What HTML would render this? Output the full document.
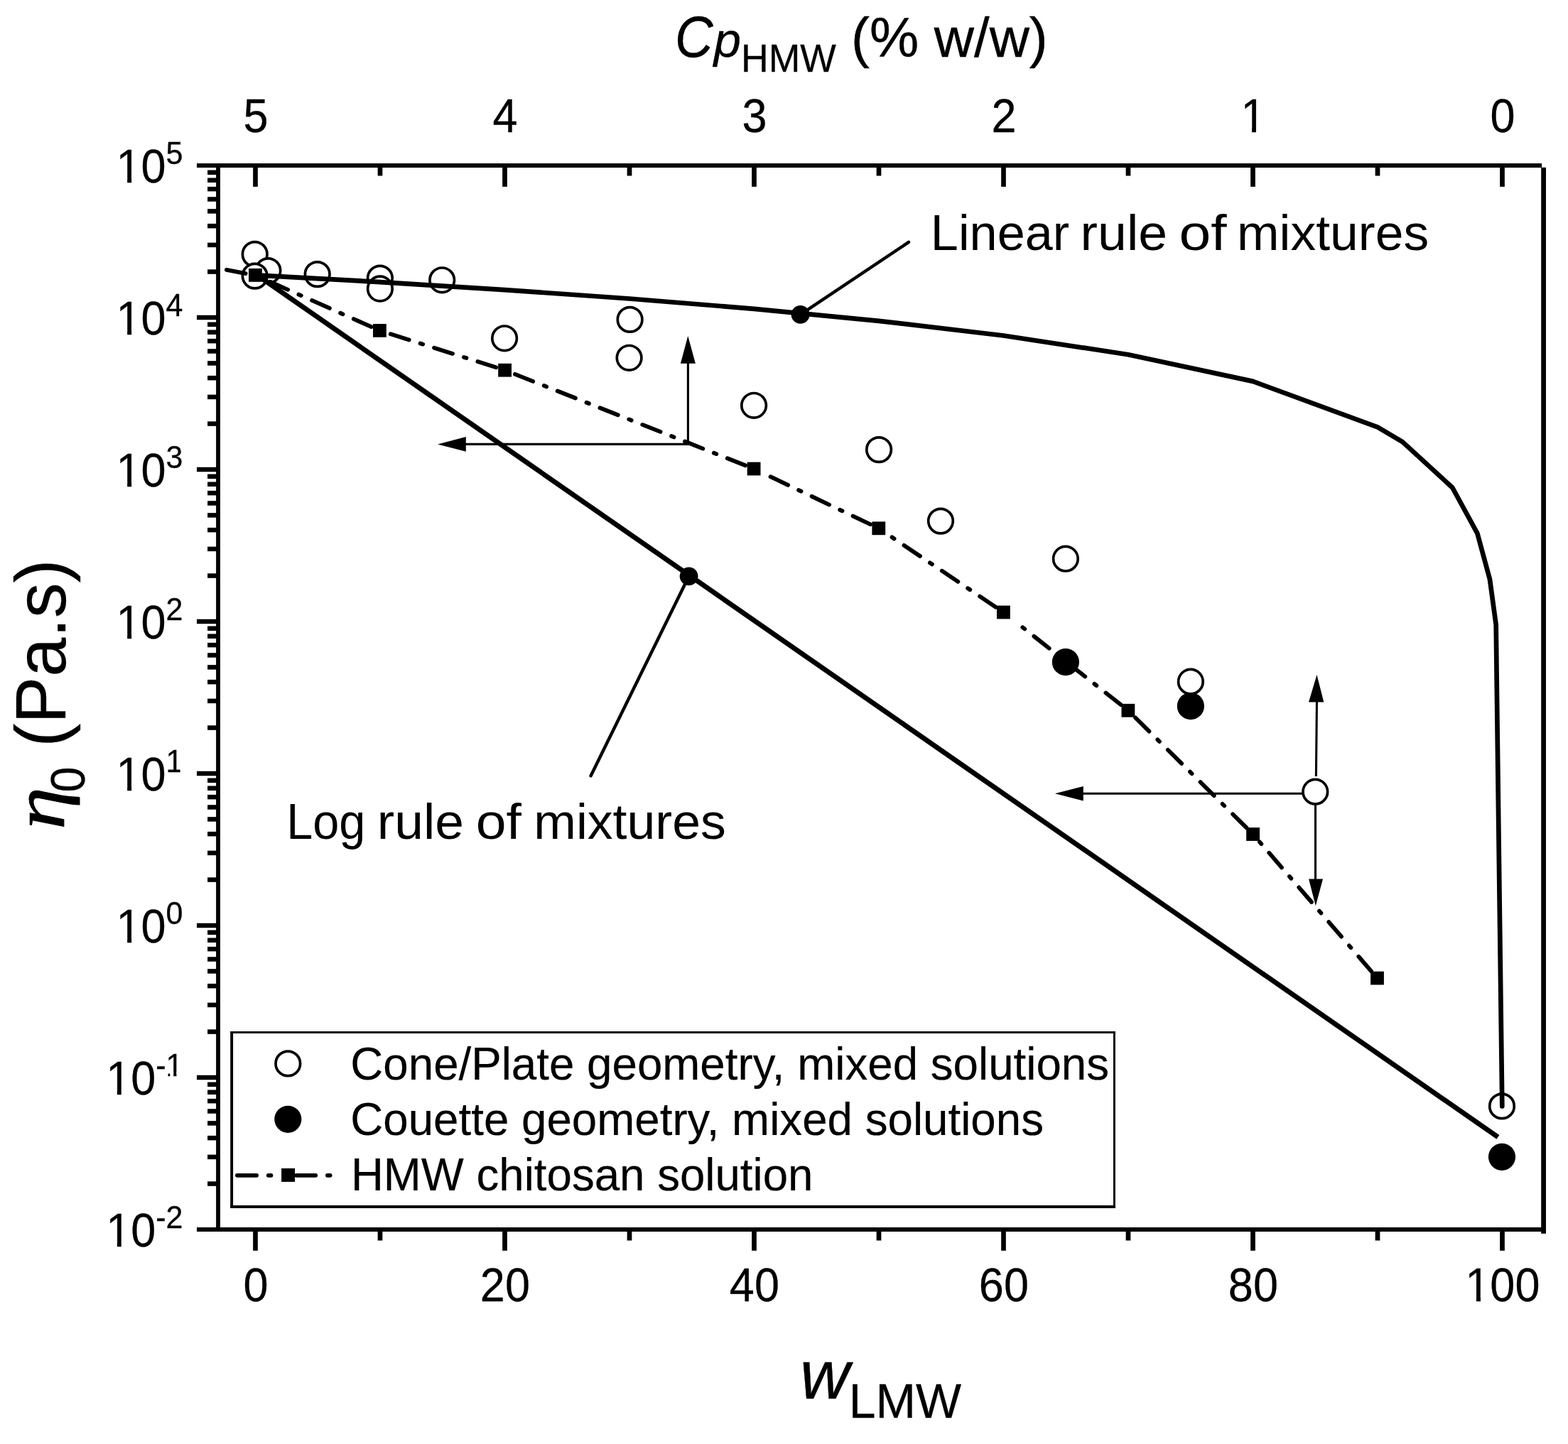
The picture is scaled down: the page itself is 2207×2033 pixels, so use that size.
<!DOCTYPE html>
<html lang="en">
<head>
<meta charset="utf-8">
<title>Zero-shear viscosity of chitosan mixtures</title>
<style>
html,body{margin:0;padding:0;background:#fff;}
body{width:2207px;height:2033px;overflow:hidden;}
svg{display:block;}
text{white-space:pre;fill:#000;}
</style>
</head>
<body>
<svg width="2207" height="2033" viewBox="0 0 2207 2033">
<rect x="0" y="0" width="2207" height="2033" fill="#fff"/>
<g fill="#000">
<rect x="277.00" y="230.00" width="1893.00" height="6.00" />
<rect x="277.00" y="1728.00" width="1893.00" height="6.00" />
<rect x="304.10" y="230.00" width="5.90" height="1504.00" />
<rect x="2169.20" y="235.80" width="6.80" height="1501.00" />
<rect x="356.15" y="1733.00" width="6.70" height="27.80" />
<rect x="356.15" y="235.00" width="6.70" height="27.90" />
<rect x="531.65" y="1733.00" width="6.70" height="13.50" />
<rect x="531.65" y="235.00" width="6.70" height="12.50" />
<rect x="707.15" y="1733.00" width="6.70" height="27.80" />
<rect x="707.15" y="235.00" width="6.70" height="27.90" />
<rect x="882.65" y="1733.00" width="6.70" height="13.50" />
<rect x="882.65" y="235.00" width="6.70" height="12.50" />
<rect x="1058.15" y="1733.00" width="6.70" height="27.80" />
<rect x="1058.15" y="235.00" width="6.70" height="27.90" />
<rect x="1233.65" y="1733.00" width="6.70" height="13.50" />
<rect x="1233.65" y="235.00" width="6.70" height="12.50" />
<rect x="1409.15" y="1733.00" width="6.70" height="27.80" />
<rect x="1409.15" y="235.00" width="6.70" height="27.90" />
<rect x="1584.65" y="1733.00" width="6.70" height="13.50" />
<rect x="1584.65" y="235.00" width="6.70" height="12.50" />
<rect x="1760.15" y="1733.00" width="6.70" height="27.80" />
<rect x="1760.15" y="235.00" width="6.70" height="27.90" />
<rect x="1935.65" y="1733.00" width="6.70" height="13.50" />
<rect x="1935.65" y="235.00" width="6.70" height="12.50" />
<rect x="2111.15" y="1733.00" width="6.70" height="27.80" />
<rect x="2111.15" y="235.00" width="6.70" height="27.90" />
<rect x="292.10" y="1663.33" width="13.00" height="6.50" />
<rect x="292.10" y="1625.65" width="13.00" height="6.50" />
<rect x="292.10" y="1598.91" width="13.00" height="6.50" />
<rect x="292.10" y="1578.17" width="13.00" height="6.50" />
<rect x="292.10" y="1561.23" width="13.00" height="6.50" />
<rect x="292.10" y="1546.90" width="13.00" height="6.50" />
<rect x="292.10" y="1534.49" width="13.00" height="6.50" />
<rect x="292.10" y="1523.54" width="13.00" height="6.50" />
<rect x="277.00" y="1513.75" width="28.10" height="6.50" />
<rect x="292.10" y="1449.33" width="13.00" height="6.50" />
<rect x="292.10" y="1411.65" width="13.00" height="6.50" />
<rect x="292.10" y="1384.91" width="13.00" height="6.50" />
<rect x="292.10" y="1364.17" width="13.00" height="6.50" />
<rect x="292.10" y="1347.23" width="13.00" height="6.50" />
<rect x="292.10" y="1332.90" width="13.00" height="6.50" />
<rect x="292.10" y="1320.49" width="13.00" height="6.50" />
<rect x="292.10" y="1309.54" width="13.00" height="6.50" />
<rect x="277.00" y="1299.75" width="28.10" height="6.50" />
<rect x="292.10" y="1235.33" width="13.00" height="6.50" />
<rect x="292.10" y="1197.65" width="13.00" height="6.50" />
<rect x="292.10" y="1170.91" width="13.00" height="6.50" />
<rect x="292.10" y="1150.17" width="13.00" height="6.50" />
<rect x="292.10" y="1133.23" width="13.00" height="6.50" />
<rect x="292.10" y="1118.90" width="13.00" height="6.50" />
<rect x="292.10" y="1106.49" width="13.00" height="6.50" />
<rect x="292.10" y="1095.54" width="13.00" height="6.50" />
<rect x="277.00" y="1085.75" width="28.10" height="6.50" />
<rect x="292.10" y="1021.33" width="13.00" height="6.50" />
<rect x="292.10" y="983.65" width="13.00" height="6.50" />
<rect x="292.10" y="956.91" width="13.00" height="6.50" />
<rect x="292.10" y="936.17" width="13.00" height="6.50" />
<rect x="292.10" y="919.23" width="13.00" height="6.50" />
<rect x="292.10" y="904.90" width="13.00" height="6.50" />
<rect x="292.10" y="892.49" width="13.00" height="6.50" />
<rect x="292.10" y="881.54" width="13.00" height="6.50" />
<rect x="277.00" y="871.75" width="28.10" height="6.50" />
<rect x="292.10" y="807.33" width="13.00" height="6.50" />
<rect x="292.10" y="769.65" width="13.00" height="6.50" />
<rect x="292.10" y="742.91" width="13.00" height="6.50" />
<rect x="292.10" y="722.17" width="13.00" height="6.50" />
<rect x="292.10" y="705.23" width="13.00" height="6.50" />
<rect x="292.10" y="690.90" width="13.00" height="6.50" />
<rect x="292.10" y="678.49" width="13.00" height="6.50" />
<rect x="292.10" y="667.54" width="13.00" height="6.50" />
<rect x="277.00" y="657.75" width="28.10" height="6.50" />
<rect x="292.10" y="593.33" width="13.00" height="6.50" />
<rect x="292.10" y="555.65" width="13.00" height="6.50" />
<rect x="292.10" y="528.91" width="13.00" height="6.50" />
<rect x="292.10" y="508.17" width="13.00" height="6.50" />
<rect x="292.10" y="491.23" width="13.00" height="6.50" />
<rect x="292.10" y="476.90" width="13.00" height="6.50" />
<rect x="292.10" y="464.49" width="13.00" height="6.50" />
<rect x="292.10" y="453.54" width="13.00" height="6.50" />
<rect x="277.00" y="443.75" width="28.10" height="6.50" />
<rect x="292.10" y="379.33" width="13.00" height="6.50" />
<rect x="292.10" y="341.65" width="13.00" height="6.50" />
<rect x="292.10" y="314.91" width="13.00" height="6.50" />
<rect x="292.10" y="294.17" width="13.00" height="6.50" />
<rect x="292.10" y="277.23" width="13.00" height="6.50" />
<rect x="292.10" y="262.90" width="13.00" height="6.50" />
<rect x="292.10" y="250.49" width="13.00" height="6.50" />
<rect x="292.10" y="239.54" width="13.00" height="6.50" />
</g>
<text font-family="'Liberation Sans', sans-serif"><tspan x="342.38" y="1831.50" font-size="66.00px" textLength="35.04" lengthAdjust="spacingAndGlyphs" stroke="#000" stroke-width="0.30" stroke-linejoin="round">0</tspan></text>
<text font-family="'Liberation Sans', sans-serif"><tspan x="342.38" y="186.20" font-size="66.00px" textLength="35.04" lengthAdjust="spacingAndGlyphs" stroke="#000" stroke-width="0.30" stroke-linejoin="round">5</tspan></text>
<text font-family="'Liberation Sans', sans-serif"><tspan x="675.86" y="1831.50" font-size="66.00px" textLength="70.08" lengthAdjust="spacingAndGlyphs" stroke="#000" stroke-width="0.30" stroke-linejoin="round">20</tspan></text>
<text font-family="'Liberation Sans', sans-serif"><tspan x="693.38" y="186.20" font-size="66.00px" textLength="35.04" lengthAdjust="spacingAndGlyphs" stroke="#000" stroke-width="0.30" stroke-linejoin="round">4</tspan></text>
<text font-family="'Liberation Sans', sans-serif"><tspan x="1026.86" y="1831.50" font-size="66.00px" textLength="70.08" lengthAdjust="spacingAndGlyphs" stroke="#000" stroke-width="0.30" stroke-linejoin="round">40</tspan></text>
<text font-family="'Liberation Sans', sans-serif"><tspan x="1044.38" y="186.20" font-size="66.00px" textLength="35.04" lengthAdjust="spacingAndGlyphs" stroke="#000" stroke-width="0.30" stroke-linejoin="round">3</tspan></text>
<text font-family="'Liberation Sans', sans-serif"><tspan x="1377.86" y="1831.50" font-size="66.00px" textLength="70.08" lengthAdjust="spacingAndGlyphs" stroke="#000" stroke-width="0.30" stroke-linejoin="round">60</tspan></text>
<text font-family="'Liberation Sans', sans-serif"><tspan x="1395.38" y="186.20" font-size="66.00px" textLength="35.04" lengthAdjust="spacingAndGlyphs" stroke="#000" stroke-width="0.30" stroke-linejoin="round">2</tspan></text>
<text font-family="'Liberation Sans', sans-serif"><tspan x="1728.86" y="1831.50" font-size="66.00px" textLength="70.08" lengthAdjust="spacingAndGlyphs" stroke="#000" stroke-width="0.30" stroke-linejoin="round">80</tspan></text>
<clipPath id="c1" clipPathUnits="userSpaceOnUse"><rect x="1726.38" y="107.00" width="75.04" height="72.42"/><rect x="1762.03" y="178.42" width="5.95" height="9.78"/></clipPath>
<text font-family="'Liberation Sans', sans-serif" clip-path="url(#c1)"><tspan x="1746.38" y="186.20" font-size="66.00px" textLength="35.04" lengthAdjust="spacingAndGlyphs" stroke="#000" stroke-width="0.30" stroke-linejoin="round">1</tspan></text>
<clipPath id="c2" clipPathUnits="userSpaceOnUse"><rect x="2042.34" y="1752.30" width="145.11" height="72.42"/><rect x="2077.99" y="1823.72" width="5.95" height="9.78"/><rect x="2097.38" y="1823.72" width="35.04" height="26.58"/><rect x="2132.42" y="1823.72" width="35.04" height="26.58"/></clipPath>
<text font-family="'Liberation Sans', sans-serif" clip-path="url(#c2)"><tspan x="2062.34" y="1831.50" font-size="66.00px" textLength="105.12" lengthAdjust="spacingAndGlyphs" stroke="#000" stroke-width="0.30" stroke-linejoin="round">100</tspan></text>
<text font-family="'Liberation Sans', sans-serif"><tspan x="2097.38" y="186.20" font-size="66.00px" textLength="35.04" lengthAdjust="spacingAndGlyphs" stroke="#000" stroke-width="0.30" stroke-linejoin="round">0</tspan></text>
<clipPath id="c3" clipPathUnits="userSpaceOnUse"><rect x="129.19" y="1676.00" width="110.08" height="72.42"/><rect x="164.84" y="1747.42" width="5.95" height="9.78"/><rect x="184.23" y="1747.42" width="35.04" height="26.58"/><rect x="199.26" y="1674.60" width="78.23" height="48.79"/><rect x="219.26" y="1722.39" width="14.32" height="18.71"/><rect x="233.58" y="1722.39" width="23.91" height="18.71"/></clipPath>
<text font-family="'Liberation Sans', sans-serif" clip-path="url(#c3)"><tspan x="149.19" y="1755.20" font-size="66.00px" textLength="70.08" lengthAdjust="spacingAndGlyphs" stroke="#000" stroke-width="0.30" stroke-linejoin="round">10</tspan><tspan x="219.26" y="1728.60" font-size="45.00px" textLength="38.24" lengthAdjust="spacingAndGlyphs" stroke="#000" stroke-width="0.30" stroke-linejoin="round">-2</tspan></text>
<clipPath id="c4" clipPathUnits="userSpaceOnUse"><rect x="129.19" y="1462.00" width="110.08" height="72.42"/><rect x="164.84" y="1533.42" width="5.95" height="9.78"/><rect x="184.23" y="1533.42" width="35.04" height="26.58"/><rect x="199.26" y="1460.60" width="78.23" height="48.79"/><rect x="219.26" y="1508.39" width="14.32" height="18.71"/><rect x="244.21" y="1508.39" width="4.18" height="8.21"/></clipPath>
<text font-family="'Liberation Sans', sans-serif" clip-path="url(#c4)"><tspan x="149.19" y="1541.20" font-size="66.00px" textLength="70.08" lengthAdjust="spacingAndGlyphs" stroke="#000" stroke-width="0.30" stroke-linejoin="round">10</tspan><tspan x="219.26" y="1514.60" font-size="45.00px" textLength="38.24" lengthAdjust="spacingAndGlyphs" stroke="#000" stroke-width="0.30" stroke-linejoin="round">-1</tspan></text>
<clipPath id="c5" clipPathUnits="userSpaceOnUse"><rect x="143.51" y="1248.00" width="110.08" height="72.42"/><rect x="179.16" y="1319.42" width="5.95" height="9.78"/><rect x="198.55" y="1319.42" width="35.04" height="26.58"/><rect x="213.58" y="1246.60" width="63.91" height="48.79"/><rect x="233.58" y="1294.39" width="23.91" height="18.71"/></clipPath>
<text font-family="'Liberation Sans', sans-serif" clip-path="url(#c5)"><tspan x="163.51" y="1327.20" font-size="66.00px" textLength="70.08" lengthAdjust="spacingAndGlyphs" stroke="#000" stroke-width="0.30" stroke-linejoin="round">10</tspan><tspan x="233.58" y="1300.60" font-size="45.00px" textLength="23.92" lengthAdjust="spacingAndGlyphs" stroke="#000" stroke-width="0.30" stroke-linejoin="round">0</tspan></text>
<clipPath id="c6" clipPathUnits="userSpaceOnUse"><rect x="143.51" y="1034.00" width="110.08" height="72.42"/><rect x="179.16" y="1105.42" width="5.95" height="9.78"/><rect x="198.55" y="1105.42" width="35.04" height="26.58"/><rect x="213.58" y="1032.60" width="63.91" height="48.79"/><rect x="244.21" y="1080.39" width="4.18" height="8.21"/></clipPath>
<text font-family="'Liberation Sans', sans-serif" clip-path="url(#c6)"><tspan x="163.51" y="1113.20" font-size="66.00px" textLength="70.08" lengthAdjust="spacingAndGlyphs" stroke="#000" stroke-width="0.30" stroke-linejoin="round">10</tspan><tspan x="233.58" y="1086.60" font-size="45.00px" textLength="23.92" lengthAdjust="spacingAndGlyphs" stroke="#000" stroke-width="0.30" stroke-linejoin="round">1</tspan></text>
<clipPath id="c7" clipPathUnits="userSpaceOnUse"><rect x="143.51" y="820.00" width="110.08" height="72.42"/><rect x="179.16" y="891.42" width="5.95" height="9.78"/><rect x="198.55" y="891.42" width="35.04" height="26.58"/><rect x="213.58" y="818.60" width="63.91" height="48.79"/><rect x="233.58" y="866.39" width="23.91" height="18.71"/></clipPath>
<text font-family="'Liberation Sans', sans-serif" clip-path="url(#c7)"><tspan x="163.51" y="899.20" font-size="66.00px" textLength="70.08" lengthAdjust="spacingAndGlyphs" stroke="#000" stroke-width="0.30" stroke-linejoin="round">10</tspan><tspan x="233.58" y="872.60" font-size="45.00px" textLength="23.92" lengthAdjust="spacingAndGlyphs" stroke="#000" stroke-width="0.30" stroke-linejoin="round">2</tspan></text>
<clipPath id="c8" clipPathUnits="userSpaceOnUse"><rect x="143.51" y="606.00" width="110.08" height="72.42"/><rect x="179.16" y="677.42" width="5.95" height="9.78"/><rect x="198.55" y="677.42" width="35.04" height="26.58"/><rect x="213.58" y="604.60" width="63.91" height="48.79"/><rect x="233.58" y="652.39" width="23.91" height="18.71"/></clipPath>
<text font-family="'Liberation Sans', sans-serif" clip-path="url(#c8)"><tspan x="163.51" y="685.20" font-size="66.00px" textLength="70.08" lengthAdjust="spacingAndGlyphs" stroke="#000" stroke-width="0.30" stroke-linejoin="round">10</tspan><tspan x="233.58" y="658.60" font-size="45.00px" textLength="23.92" lengthAdjust="spacingAndGlyphs" stroke="#000" stroke-width="0.30" stroke-linejoin="round">3</tspan></text>
<clipPath id="c9" clipPathUnits="userSpaceOnUse"><rect x="143.51" y="392.00" width="110.08" height="72.42"/><rect x="179.16" y="463.42" width="5.95" height="9.78"/><rect x="198.55" y="463.42" width="35.04" height="26.58"/><rect x="213.58" y="390.60" width="63.91" height="48.79"/><rect x="233.58" y="438.39" width="23.91" height="18.71"/></clipPath>
<text font-family="'Liberation Sans', sans-serif" clip-path="url(#c9)"><tspan x="163.51" y="471.20" font-size="66.00px" textLength="70.08" lengthAdjust="spacingAndGlyphs" stroke="#000" stroke-width="0.30" stroke-linejoin="round">10</tspan><tspan x="233.58" y="444.60" font-size="45.00px" textLength="23.92" lengthAdjust="spacingAndGlyphs" stroke="#000" stroke-width="0.30" stroke-linejoin="round">4</tspan></text>
<clipPath id="c10" clipPathUnits="userSpaceOnUse"><rect x="143.51" y="178.00" width="110.08" height="72.42"/><rect x="179.16" y="249.42" width="5.95" height="9.78"/><rect x="198.55" y="249.42" width="35.04" height="26.58"/><rect x="213.58" y="176.60" width="63.91" height="48.79"/><rect x="233.58" y="224.39" width="23.91" height="18.71"/></clipPath>
<text font-family="'Liberation Sans', sans-serif" clip-path="url(#c10)"><tspan x="163.51" y="257.20" font-size="66.00px" textLength="70.08" lengthAdjust="spacingAndGlyphs" stroke="#000" stroke-width="0.30" stroke-linejoin="round">10</tspan><tspan x="233.58" y="230.60" font-size="45.00px" textLength="23.92" lengthAdjust="spacingAndGlyphs" stroke="#000" stroke-width="0.30" stroke-linejoin="round">5</tspan></text>
<text font-family="'Liberation Sans', sans-serif"><tspan x="950.01" y="80.09" font-size="81.34px" font-style="italic" textLength="53.68" lengthAdjust="spacingAndGlyphs" stroke="#000" stroke-width="0.40" stroke-linejoin="round">C</tspan><tspan x="1004.77" y="79.50" font-size="67.91px" font-style="italic" textLength="38.27" lengthAdjust="spacingAndGlyphs" stroke="#000" stroke-width="0.40" stroke-linejoin="round">p</tspan><tspan x="1043.06" y="100.85" font-size="54.64px" textLength="133.90" lengthAdjust="spacingAndGlyphs" stroke="#000" stroke-width="0.30" stroke-linejoin="round">HMW</tspan><tspan x="1176.43" y="80.17" font-size="78.72px" textLength="298.37" lengthAdjust="spacingAndGlyphs" stroke="#000" stroke-width="0.40" stroke-linejoin="round"> (% w/w)</tspan></text>
<text font-family="'Liberation Sans', sans-serif"><tspan x="1126.07" y="1968.60" font-size="96.98px" font-style="italic" textLength="69.73" lengthAdjust="spacingAndGlyphs" stroke="#000" stroke-width="0.40" stroke-linejoin="round">w</tspan><tspan x="1194.82" y="1995.85" font-size="69.28px" textLength="158.23" lengthAdjust="spacingAndGlyphs" stroke="#000" stroke-width="0.30" stroke-linejoin="round">LMW</tspan></text>
<text font-family="'Liberation Sans', sans-serif" transform="rotate(-90)"><tspan x="-1167.68" y="89.92" font-size="103.24px" font-family="'Liberation Serif', serif" font-style="italic" textLength="59.30" lengthAdjust="spacingAndGlyphs" stroke="#000" stroke-width="1.00" stroke-linejoin="round">η</tspan><tspan x="-1115.44" y="119.36" font-size="68.73px" textLength="35.95" lengthAdjust="spacingAndGlyphs" stroke="#000" stroke-width="0.30" stroke-linejoin="round">0</tspan><tspan x="-1079.23" y="92.42" font-size="100.64px" textLength="291.70" lengthAdjust="spacingAndGlyphs" stroke="#000" stroke-width="0.30" stroke-linejoin="round"> (Pa.s)</tspan></text>
<g fill="#fff" stroke="#000" stroke-width="3.7">
<circle cx="358.7" cy="357.9" r="17.3"/>
<circle cx="377.4" cy="381.1" r="17.3"/>
<circle cx="358.7" cy="388.6" r="17.3"/>
<circle cx="446.7" cy="386.1" r="17.3"/>
<circle cx="534.9" cy="391.6" r="17.3"/>
<circle cx="534.9" cy="406.5" r="17.3"/>
<circle cx="622.2" cy="394.3" r="17.3"/>
<circle cx="710.1" cy="476.3" r="17.3"/>
<circle cx="886.6" cy="449.9" r="17.3"/>
<circle cx="885.6" cy="503.8" r="17.3"/>
<circle cx="1061.1" cy="570.8" r="17.3"/>
<circle cx="1237.1" cy="633.1" r="17.3"/>
<circle cx="1324.0" cy="733.6" r="17.3"/>
<circle cx="1499.9" cy="786.7" r="17.3"/>
<circle cx="1675.9" cy="959.7" r="17.3"/>
<circle cx="1851.3" cy="1114.7" r="17.3"/>
<circle cx="2114.0" cy="1557.4" r="17.3"/>
</g>
<polyline fill="none" stroke="#000" stroke-width="6.70" stroke-linejoin="round" stroke-linecap="round" points="359.4,387.4 535.0,397.1 710.5,408.1 886.0,420.5 1061.5,434.8 1237.0,451.8 1412.5,472.5 1588.0,499.2 1763.5,536.9 1939.0,601.3 1974.1,622.1 2044.3,686.5 2079.4,750.9 2096.9,815.3 2105.7,879.7 2114.3,1557.5"/>
<line x1="359.4" y1="385.7" x2="2108.4" y2="1600.9" stroke="#000" stroke-width="7.0" stroke-linecap="butt"/>
<g stroke="#000" stroke-width="5.8" stroke-linecap="round" fill="none">
<line x1="522.62" y1="460.15" x2="497.78" y2="449.08"/>
<line x1="482.52" y1="442.28" x2="479.15" y2="440.77"/>
<line x1="463.89" y1="433.97" x2="439.05" y2="422.90"/>
<line x1="423.79" y1="416.10" x2="420.42" y2="414.59"/>
<line x1="405.16" y1="407.79" x2="380.32" y2="396.72"/>
<line x1="698.30" y1="517.31" x2="672.38" y2="509.09"/>
<line x1="656.45" y1="504.05" x2="652.93" y2="502.93"/>
<line x1="637.00" y1="497.89" x2="611.08" y2="489.68"/>
<line x1="595.15" y1="484.64" x2="591.63" y2="483.52"/>
<line x1="575.70" y1="478.48" x2="549.78" y2="470.27"/>
<line x1="1049.11" y1="655.25" x2="1023.83" y2="645.24"/>
<line x1="1008.29" y1="639.09" x2="1004.86" y2="637.72"/>
<line x1="989.32" y1="631.58" x2="964.04" y2="621.56"/>
<line x1="948.51" y1="615.41" x2="945.08" y2="614.05"/>
<line x1="929.54" y1="607.90" x2="904.26" y2="597.89"/>
<line x1="888.72" y1="591.74" x2="885.29" y2="590.38"/>
<line x1="869.76" y1="584.23" x2="844.48" y2="574.21"/>
<line x1="828.94" y1="568.06" x2="825.51" y2="566.70"/>
<line x1="809.97" y1="560.55" x2="784.69" y2="550.54"/>
<line x1="769.16" y1="544.39" x2="765.73" y2="543.03"/>
<line x1="750.19" y1="536.88" x2="724.91" y2="526.86"/>
<line x1="1225.16" y1="738.25" x2="1200.62" y2="726.54"/>
<line x1="1185.53" y1="719.35" x2="1182.20" y2="717.76"/>
<line x1="1167.12" y1="710.57" x2="1142.58" y2="698.86"/>
<line x1="1127.50" y1="691.67" x2="1124.17" y2="690.07"/>
<line x1="1109.08" y1="682.89" x2="1084.54" y2="671.18"/>
<line x1="1401.70" y1="854.80" x2="1379.14" y2="839.61"/>
<line x1="1365.28" y1="830.28" x2="1362.22" y2="828.22"/>
<line x1="1348.36" y1="818.89" x2="1325.80" y2="803.70"/>
<line x1="1311.94" y1="794.38" x2="1308.88" y2="792.31"/>
<line x1="1295.02" y1="782.99" x2="1272.46" y2="767.80"/>
<line x1="1258.60" y1="758.47" x2="1255.54" y2="756.41"/>
<line x1="1577.77" y1="992.32" x2="1556.41" y2="975.48"/>
<line x1="1543.29" y1="965.14" x2="1540.39" y2="962.85"/>
<line x1="1527.26" y1="952.52" x2="1505.91" y2="935.68"/>
<line x1="1492.78" y1="925.35" x2="1489.89" y2="923.06"/>
<line x1="1476.76" y1="912.72" x2="1455.41" y2="895.88"/>
<line x1="1442.28" y1="885.55" x2="1439.38" y2="883.26"/>
<line x1="1754.44" y1="1165.42" x2="1735.13" y2="1146.27"/>
<line x1="1723.26" y1="1134.51" x2="1720.65" y2="1131.90"/>
<line x1="1708.78" y1="1120.15" x2="1689.47" y2="1101.00"/>
<line x1="1677.60" y1="1089.24" x2="1674.99" y2="1086.63"/>
<line x1="1663.12" y1="1074.87" x2="1643.81" y2="1055.72"/>
<line x1="1631.94" y1="1043.97" x2="1629.32" y2="1041.36"/>
<line x1="1617.45" y1="1029.60" x2="1598.15" y2="1010.45"/>
<line x1="1930.07" y1="1367.34" x2="1912.31" y2="1346.75"/>
<line x1="1901.38" y1="1334.10" x2="1898.98" y2="1331.30"/>
<line x1="1888.05" y1="1318.66" x2="1870.29" y2="1298.07"/>
<line x1="1859.37" y1="1285.43" x2="1856.96" y2="1282.63"/>
<line x1="1846.03" y1="1269.99" x2="1828.27" y2="1249.40"/>
<line x1="1817.35" y1="1236.76" x2="1814.94" y2="1233.96"/>
<line x1="1804.02" y1="1221.32" x2="1786.25" y2="1200.73"/>
<line x1="1775.33" y1="1188.09" x2="1772.92" y2="1185.29"/>
<line x1="345.7" y1="385.1" x2="318.9" y2="379.9"/>
</g>
<g fill="#000">
<rect x="350.00" y="378.00" width="18.80" height="18.80" />
<rect x="525.00" y="456.00" width="18.80" height="18.80" />
<rect x="701.20" y="511.80" width="18.80" height="18.80" />
<rect x="1051.70" y="650.60" width="18.80" height="18.80" />
<rect x="1227.40" y="734.40" width="18.80" height="18.80" />
<rect x="1403.00" y="852.60" width="18.80" height="18.80" />
<rect x="1578.50" y="990.90" width="18.80" height="18.80" />
<rect x="1754.20" y="1165.10" width="18.80" height="18.80" />
<rect x="1929.10" y="1367.70" width="18.80" height="18.80" />
</g>
<g fill="#000">
<circle cx="1499.9" cy="932.1" r="19.1"/>
<circle cx="1675.9" cy="994.1" r="19.1"/>
<circle cx="2114.0" cy="1628.8" r="19.1"/>
<circle cx="1126.6" cy="442.9" r="12.9"/>
<circle cx="969.6" cy="811.3" r="12.9"/>
</g>
<g stroke="#000" stroke-width="4.5" stroke-linecap="round" fill="none">
<line x1="1126.6" y1="442.9" x2="1279.0" y2="340.9"/>
<line x1="969.6" y1="811.3" x2="831.6" y2="1092.3"/>
</g>
<g stroke="#000" stroke-width="3.1" fill="none">
<line x1="968.4" y1="626.5" x2="968.4" y2="505"/>
<line x1="969.9" y1="625.4" x2="650" y2="625.4"/>
<line x1="1852.4" y1="1093" x2="1853.5" y2="985"/>
<line x1="1851.5" y1="1133" x2="1851.5" y2="1240"/>
<line x1="1833" y1="1117.3" x2="1520" y2="1117.3"/>
</g>
<g fill="#000">
<polygon points="968.3,472.9 957.9,511.8 978.9,511.8"/>
<polygon points="616.0,625.5 655.8,615.1 655.8,635.8"/>
<polygon points="1853.5,950.0 1842.0,988.6 1863.3,988.6"/>
<polygon points="1851.8,1275.4 1842.1,1237.5 1862,1237.5"/>
<polygon points="1484.9,1117.3 1524.8,1107 1524.8,1127.4"/>
</g>
<text font-family="'Liberation Sans', sans-serif"><tspan x="1309.88" y="352.20" font-size="69.50px" textLength="195.37" lengthAdjust="spacingAndGlyphs">Linear</tspan> <tspan x="1520.62" y="352.20" font-size="69.50px" textLength="122.50" lengthAdjust="spacingAndGlyphs">rule</tspan> <tspan x="1659.47" y="352.20" font-size="69.50px" textLength="67.24" lengthAdjust="spacingAndGlyphs">of</tspan> <tspan x="1741.05" y="352.20" font-size="69.50px" textLength="270.09" lengthAdjust="spacingAndGlyphs">mixtures</tspan></text>
<text font-family="'Liberation Sans', sans-serif"><tspan x="403.27" y="1181.40" font-size="69.50px" textLength="111.16" lengthAdjust="spacingAndGlyphs">Log</tspan> <tspan x="530.84" y="1181.40" font-size="69.50px" textLength="122.07" lengthAdjust="spacingAndGlyphs">rule</tspan> <tspan x="669.82" y="1181.40" font-size="69.50px" textLength="64.20" lengthAdjust="spacingAndGlyphs">of</tspan> <tspan x="751.25" y="1181.40" font-size="69.50px" textLength="270.50" lengthAdjust="spacingAndGlyphs">mixtures</tspan></text>
<g fill="#000">
<rect x="324.20" y="1452.00" width="1245.70" height="2.90" />
<rect x="324.20" y="1697.00" width="1245.70" height="4.00" />
<rect x="324.20" y="1452.00" width="3.90" height="249.00" />
<rect x="1567.00" y="1452.00" width="2.90" height="249.00" />
</g>
<circle cx="405.3" cy="1497.4" r="17.3" fill="none" stroke="#000" stroke-width="3.7"/>
<circle cx="405.3" cy="1575.8" r="19.1" fill="#000"/>
<g stroke="#000" stroke-width="5.8" stroke-linecap="round" fill="none">
<line x1="333.90" y1="1654.80" x2="361.11" y2="1654.80"/>
<line x1="377.80" y1="1654.80" x2="381.51" y2="1654.80"/>
<line x1="417.00" y1="1654.80" x2="444.21" y2="1654.80"/>
<line x1="460.90" y1="1654.80" x2="464.61" y2="1654.80"/>
</g>
<rect x="396.10" y="1644.90" width="19.00" height="19.00" fill="#000"/>
<text font-family="'Liberation Sans', sans-serif"><tspan x="493.32" y="1520.00" font-size="65.00px" textLength="1067.78" lengthAdjust="spacingAndGlyphs" stroke="#000" stroke-width="0.20" stroke-linejoin="round">Cone/Plate geometry, mixed solutions</tspan></text>
<text font-family="'Liberation Sans', sans-serif"><tspan x="493.32" y="1598.00" font-size="65.00px" textLength="975.66" lengthAdjust="spacingAndGlyphs" stroke="#000" stroke-width="0.20" stroke-linejoin="round">Couette geometry, mixed solutions</tspan></text>
<text font-family="'Liberation Sans', sans-serif"><tspan x="493.91" y="1675.90" font-size="65.00px" textLength="650.49" lengthAdjust="spacingAndGlyphs" stroke="#000" stroke-width="0.20" stroke-linejoin="round">HMW chitosan solution</tspan></text>
</svg>
</body>
</html>
